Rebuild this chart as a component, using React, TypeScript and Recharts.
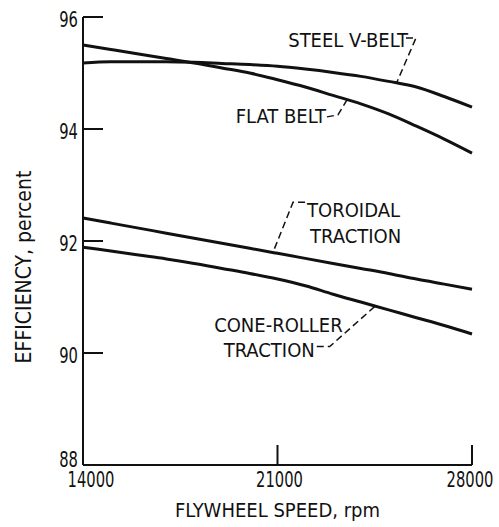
import React from 'react';
import { LineChart, Line, XAxis, YAxis, ReferenceDot, Label } from 'recharts';

const speeds = [14000, 15000, 16000, 17000, 18000, 19000, 20000, 21000, 22000, 23000, 24000, 25000, 26000, 27000, 28000];
const steelVBelt = [95.18, 95.2, 95.2, 95.2, 95.19, 95.17, 95.15, 95.12, 95.07, 95.01, 94.94, 94.85, 94.75, 94.58, 94.39];
const flatBelt = [95.5, 95.42, 95.34, 95.26, 95.18, 95.09, 95.0, 94.88, 94.75, 94.6, 94.45, 94.27, 94.05, 93.82, 93.57];
const toroidal = [92.41, 92.32, 92.23, 92.14, 92.05, 91.96, 91.87, 91.78, 91.69, 91.6, 91.51, 91.42, 91.32, 91.23, 91.14];
const coneRoller = [91.89, 91.82, 91.75, 91.68, 91.6, 91.51, 91.42, 91.32, 91.2, 91.05, 90.91, 90.77, 90.63, 90.49, 90.34];

const xTicks = [14000, 21000, 28000];
const yTicks = [88, 90, 92, 94, 96];

const data = speeds.map((s, i) => ({
  speed: s,
  steel: steelVBelt[i],
  flat: flatBelt[i],
  toroidal: toroidal[i],
  cone: coneRoller[i],
}));

const FONT = "'DejaVu Sans Condensed', 'DejaVu Sans', sans-serif";
const INK = '#111';

// callouts: anchor point on the curve + label lines
const callouts = [
  {
    x: 25300, y: 94.84,
    lines: [{ text: 'STEEL V-BELT', dx: 11, dy: -35, anchor: 'end' }],
    path: [[9, -44], [19, -44], [0, 0]],
  },
  {
    x: 23500, y: 94.52,
    lines: [{ text: 'FLAT BELT', dx: -21, dy: 23, anchor: 'end' }],
    path: [[-20, 17], [-9, 15], [0, 0]],
  },
  {
    x: 20840, y: 91.8,
    lines: [
      { text: 'TOROIDAL', dx: 34, dy: -35, anchor: 'start' },
      { text: 'TRACTION', dx: 37, dy: -9, anchor: 'start' },
    ],
    path: [[32, -50], [20, -50], [0, 0]],
  },
  {
    x: 24500, y: 90.83,
    lines: [
      { text: 'CONE-ROLLER', dx: -32, dy: 25, anchor: 'end' },
      { text: 'TRACTION', dx: -60, dy: 50, anchor: 'end' },
    ],
    path: [[-58, 40], [-45, 40], [0, 0]],
  },
];

const YTick = (props: any) => {
  const { x, y, payload, index } = props;
  const ty = index === 0 ? y - 6 : y + 2;
  return (
    <g>
      <line x1={x} x2={x + 20} y1={y} y2={y} stroke={INK} strokeWidth={2} />
      <text transform={`translate(${x - 5},${ty}) scale(0.78,1)`} dy="0.36em" textAnchor="end" fontFamily={FONT} fontSize={21} fill={INK}>
        {payload.value}
      </text>
    </g>
  );
};

const XTick = (props: any) => {
  const { x, y, payload, index } = props;
  const tx = x + (index === 0 ? 8 : index === 2 ? -2 : 2);
  return (
    <g>
      <line x1={x} x2={x} y1={y} y2={y - 20} stroke={INK} strokeWidth={2} />
      <text transform={`translate(${tx},${y + 22}) scale(0.78,1)`} textAnchor="middle" fontFamily={FONT} fontSize={21} fill={INK}>
        {payload.value}
      </text>
    </g>
  );
};

const calloutShape = (c: any) => (props: any) => {
  const { cx, cy } = props;
  const d = c.path.map((p: number[], i: number) => `${i ? 'L' : 'M'}${cx + p[0]},${cy + p[1]}`).join(' ');
  return (
    <g>
      <path d={d} fill="none" stroke={INK} strokeWidth={1.5} strokeDasharray="7 4" />
      {c.lines.map((l: any) => (
        <text key={l.text + l.dy} x={cx + l.dx} y={cy + l.dy} textAnchor={l.anchor} fontFamily={FONT} fontSize={20} fill={INK}>
          {l.text}
        </text>
      ))}
    </g>
  );
};

export default function App() {
  return (
    <div style={{ position: 'absolute', left: 0, top: 0, width: 499, height: 527, background: '#fff' }}>
      <LineChart width={499} height={527} data={data} margin={{ top: 17, right: 27, bottom: 10, left: 0 }}>
        <XAxis
          dataKey="speed"
          type="number"
          domain={[14000, 28000]}
          ticks={xTicks}
          interval={0}
          height={52}
          tickSize={0}
          tickMargin={0}
          tick={<XTick />}
          axisLine={{ stroke: INK, strokeWidth: 2 }}
          tickLine={false}
        >
          <Label
            content={(p: any) => (
              <text x={p.viewBox.x + p.viewBox.width / 2} y={p.viewBox.y + 52} textAnchor="middle" fontFamily={FONT} fontSize={20} fill={INK}>
                FLYWHEEL SPEED, rpm
              </text>
            )}
          />
        </XAxis>
        <YAxis
          type="number"
          domain={[88, 96]}
          ticks={yTicks}
          interval={0}
          width={83}
          tickSize={0}
          tickMargin={0}
          tick={<YTick />}
          axisLine={{ stroke: INK, strokeWidth: 2 }}
          tickLine={false}
        >
          <Label
            content={(p: any) => {
              const cx = 23;
              const cy = p.viewBox.y + p.viewBox.height / 2 + 26;
              return (
                <text x={cx} y={cy} transform={`rotate(-90 ${cx} ${cy})`} dy="0.36em" textAnchor="middle" fontFamily={FONT} fontSize={21} fill={INK}>
                  EFFICIENCY, percent
                </text>
              );
            }}
          />
        </YAxis>
        <Line dataKey="steel" type="monotone" stroke={INK} strokeWidth={3} dot={false} isAnimationActive={false} />
        <Line dataKey="flat" type="monotone" stroke={INK} strokeWidth={3} dot={false} isAnimationActive={false} />
        <Line dataKey="toroidal" type="monotone" stroke={INK} strokeWidth={3} dot={false} isAnimationActive={false} />
        <Line dataKey="cone" type="monotone" stroke={INK} strokeWidth={3} dot={false} isAnimationActive={false} />
        {callouts.map((c, i) => (
          <ReferenceDot key={i} x={c.x} y={c.y} r={0} shape={calloutShape(c)} />
        ))}
      </LineChart>
    </div>
  );
}
